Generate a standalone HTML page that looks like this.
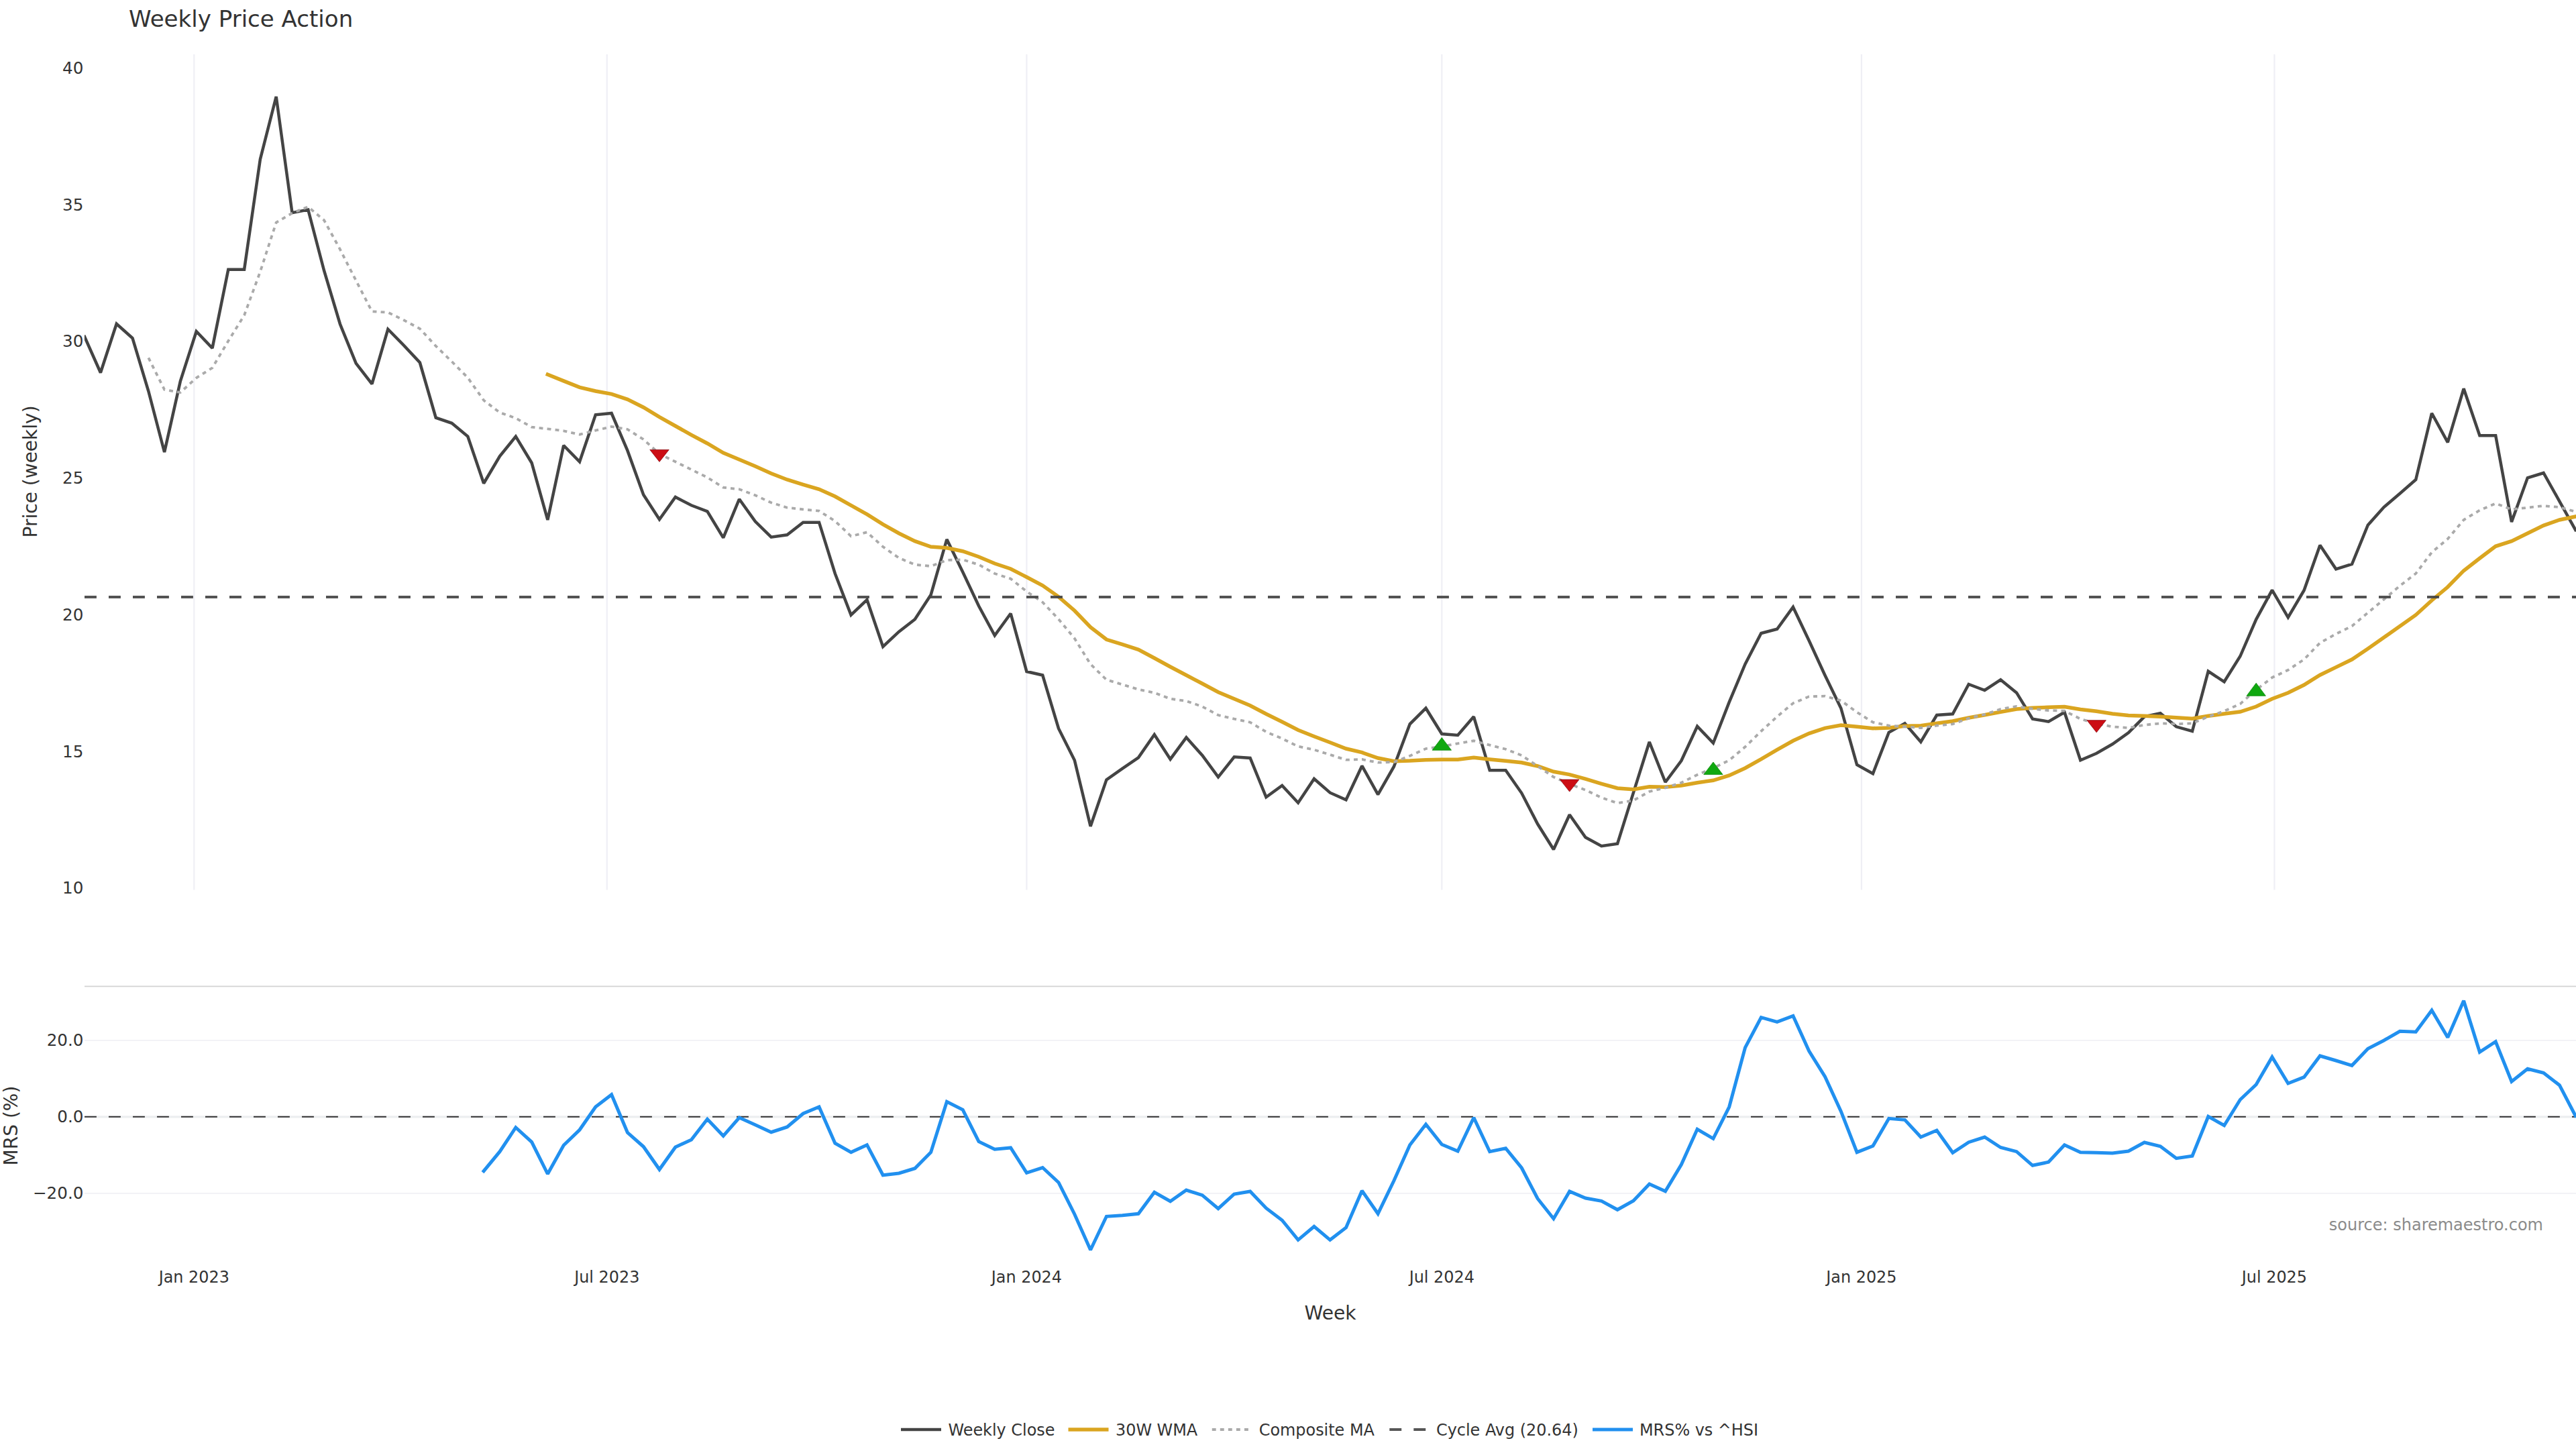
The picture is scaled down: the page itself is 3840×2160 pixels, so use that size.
<!DOCTYPE html>
<html><head><meta charset="utf-8"><title>Weekly Price Action</title>
<style>
html,body{margin:0;padding:0;background:#fff;}
body{width:3840px;height:2160px;overflow:hidden;}
svg{display:block;}
text{font-family:"DejaVu Sans","Liberation Sans",sans-serif;}
</style></head><body>
<svg width="3840" height="2160" viewBox="0 0 3840 2160">
<rect width="3840" height="2160" fill="#ffffff"/>
<defs><clipPath id="c1"><rect x="125.9" y="80.5" width="3720" height="1246"/></clipPath><clipPath id="c2"><rect x="125.9" y="1470.3" width="3720" height="416"/></clipPath></defs>

<line x1="289.3" y1="81" x2="289.3" y2="1326.5" stroke="#efeff5" stroke-width="2.2"/>
<line x1="904.8" y1="81" x2="904.8" y2="1326.5" stroke="#efeff5" stroke-width="2.2"/>
<line x1="1530.4" y1="81" x2="1530.4" y2="1326.5" stroke="#efeff5" stroke-width="2.2"/>
<line x1="2149.3" y1="81" x2="2149.3" y2="1326.5" stroke="#efeff5" stroke-width="2.2"/>
<line x1="2774.9" y1="81" x2="2774.9" y2="1326.5" stroke="#efeff5" stroke-width="2.2"/>
<line x1="3390.4" y1="81" x2="3390.4" y2="1326.5" stroke="#efeff5" stroke-width="2.2"/>
<g clip-path="url(#c1)">
<polyline points="126.1,502.0 149.9,555.5 173.7,482.7 197.5,504.0 221.3,583.0 245.1,674.0 268.9,568.0 292.7,494.0 316.5,519.0 340.3,401.7 364.1,401.7 387.9,237.4 411.7,144.0 435.5,317.2 459.3,312.5 483.1,403.5 506.9,483.0 530.7,541.7 554.5,572.3 578.3,490.7 602.1,515.0 625.9,540.5 649.7,622.7 673.5,630.8 697.3,650.5 721.1,720.5 745.0,680.0 768.8,650.7 792.6,690.0 816.4,775.0 840.2,664.0 864.0,688.3 887.8,618.3 911.6,616.0 935.4,671.7 959.2,737.5 983.0,774.3 1006.8,741.0 1030.6,753.3 1054.4,762.3 1078.2,801.7 1102.0,744.0 1125.8,777.3 1149.6,800.7 1173.4,797.3 1197.2,778.7 1221.0,778.7 1244.8,855.0 1268.6,916.7 1292.4,894.0 1316.2,964.0 1340.0,941.7 1363.8,923.3 1387.6,886.7 1411.4,804.0 1435.2,852.7 1459.0,903.3 1482.8,947.3 1506.6,914.5 1530.4,1001.0 1554.2,1006.5 1578.0,1086.0 1601.8,1133.3 1625.6,1231.7 1649.4,1162.3 1673.2,1145.7 1697.0,1129.3 1720.8,1095.0 1744.6,1131.7 1768.4,1099.3 1792.2,1126.0 1816.0,1158.3 1839.8,1128.3 1863.6,1130.0 1887.4,1188.3 1911.2,1171.0 1935.1,1196.7 1958.9,1161.0 1982.7,1181.7 2006.5,1192.3 2030.3,1141.7 2054.1,1184.3 2077.9,1142.7 2101.7,1079.3 2125.5,1055.7 2149.3,1094.0 2173.1,1096.0 2196.9,1068.3 2220.7,1148.3 2244.5,1148.3 2268.3,1182.3 2292.1,1228.3 2315.9,1266.3 2339.7,1214.5 2363.5,1248.3 2387.3,1261.2 2411.1,1257.7 2434.9,1181.7 2458.7,1106.0 2482.5,1166.0 2506.3,1134.0 2530.1,1082.7 2553.9,1107.7 2577.7,1046.7 2601.5,990.0 2625.3,944.0 2649.1,937.7 2672.9,905.0 2696.7,955.0 2720.5,1006.7 2744.3,1055.7 2768.1,1140.0 2791.9,1153.3 2815.7,1091.7 2839.5,1078.3 2863.3,1106.0 2887.1,1066.0 2910.9,1064.3 2934.7,1020.0 2958.5,1029.0 2982.3,1013.3 3006.1,1032.7 3029.9,1071.7 3053.7,1075.7 3077.5,1061.7 3101.3,1133.3 3125.2,1123.0 3149.0,1109.3 3172.8,1092.3 3196.6,1068.3 3220.4,1063.3 3244.2,1083.3 3268.0,1090.0 3291.8,1000.7 3315.6,1016.3 3339.4,978.3 3363.2,923.3 3387.0,879.7 3410.8,920.3 3434.6,880.0 3458.4,812.7 3482.2,848.3 3506.0,841.0 3529.8,782.7 3553.6,756.0 3577.4,735.7 3601.2,715.0 3625.0,616.0 3648.8,659.3 3672.6,579.3 3696.4,649.3 3720.2,649.3 3744.0,778.0 3767.8,712.3 3791.6,705.0 3815.4,747.3 3839.2,790.0" fill="none" stroke="#444444" stroke-width="4.5" stroke-linejoin="miter" stroke-miterlimit="2" stroke-linecap="square"/>
<polyline points="816.4,558.3 840.2,567.9 864.0,577.3 887.8,583.0 911.6,587.3 935.4,595.3 959.2,607.2 983.0,621.7 1006.8,635.0 1030.6,648.3 1054.4,661.0 1078.2,675.0 1102.0,685.0 1125.8,695.0 1149.6,705.7 1173.4,715.0 1197.2,722.3 1221.0,729.3 1244.8,740.0 1268.6,753.3 1292.4,766.7 1316.2,781.7 1340.0,795.0 1363.8,806.7 1387.6,815.0 1411.4,816.7 1435.2,821.7 1459.0,830.0 1482.8,840.0 1506.6,848.0 1530.4,860.3 1554.2,872.8 1578.0,889.6 1601.8,910.3 1625.6,935.0 1649.4,953.3 1673.2,960.7 1697.0,968.3 1720.8,981.0 1744.6,994.0 1768.4,1006.5 1792.2,1019.0 1816.0,1031.7 1839.8,1041.7 1863.6,1051.7 1887.4,1064.3 1911.2,1076.0 1935.1,1088.3 1958.9,1097.7 1982.7,1106.7 2006.5,1116.0 2030.3,1121.7 2054.1,1130.0 2077.9,1134.7 2101.7,1134.0 2125.5,1132.7 2149.3,1132.3 2173.1,1132.3 2196.9,1129.3 2220.7,1132.0 2244.5,1134.3 2268.3,1136.7 2292.1,1142.0 2315.9,1150.3 2339.7,1154.6 2363.5,1161.2 2387.3,1168.3 2411.1,1175.0 2434.9,1176.7 2458.7,1172.7 2482.5,1173.3 2506.3,1171.0 2530.1,1166.7 2553.9,1163.3 2577.7,1156.0 2601.5,1145.0 2625.3,1131.7 2649.1,1117.7 2672.9,1104.3 2696.7,1093.3 2720.5,1085.3 2744.3,1081.0 2768.1,1083.3 2791.9,1085.7 2815.7,1085.0 2839.5,1082.3 2863.3,1081.7 2887.1,1078.3 2910.9,1075.0 2934.7,1070.0 2958.5,1065.7 2982.3,1061.3 3006.1,1057.0 3029.9,1055.3 3053.7,1054.3 3077.5,1053.6 3101.3,1057.5 3125.2,1060.3 3149.0,1064.0 3172.8,1066.5 3196.6,1067.3 3220.4,1068.3 3244.2,1069.7 3268.0,1071.3 3291.8,1067.3 3315.6,1064.0 3339.4,1061.0 3363.2,1053.3 3387.0,1041.7 3410.8,1032.7 3434.6,1021.0 3458.4,1006.2 3482.2,994.6 3506.0,983.0 3529.8,967.0 3553.6,950.3 3577.4,933.6 3601.2,916.7 3625.0,895.0 3648.8,875.0 3672.6,850.7 3696.4,832.3 3720.2,814.3 3744.0,806.7 3767.8,795.0 3791.6,783.3 3815.4,775.0 3839.2,770.0" fill="none" stroke="#daa520" stroke-width="5.5" stroke-linejoin="miter" stroke-miterlimit="2" stroke-linecap="square"/>
<polyline points="221.3,533.3 245.1,580.8 268.9,585.0 292.7,563.3 316.5,548.3 340.3,508.3 364.1,470.0 387.9,405.0 411.7,331.7 435.5,317.7 459.3,308.3 483.1,328.3 506.9,371.7 530.7,418.3 554.5,464.3 578.3,465.7 602.1,477.3 625.9,490.0 649.7,515.8 673.5,539.0 697.3,563.0 721.1,596.7 745.0,615.0 768.8,623.3 792.6,636.7 816.4,639.3 840.2,642.3 864.0,647.7 887.8,641.7 911.6,636.0 935.4,640.0 959.2,655.0 983.0,676.7 1006.8,688.3 1030.6,700.0 1054.4,711.7 1078.2,726.7 1102.0,729.3 1125.8,738.3 1149.6,749.3 1173.4,756.7 1197.2,759.3 1221.0,761.7 1244.8,776.7 1268.6,799.3 1292.4,793.3 1316.2,815.0 1340.0,831.7 1363.8,841.7 1387.6,844.0 1411.4,835.0 1435.2,834.3 1459.0,841.7 1482.8,855.0 1506.6,862.7 1530.4,881.7 1554.2,897.8 1578.0,923.0 1601.8,951.7 1625.6,990.0 1649.4,1013.3 1673.2,1020.5 1697.0,1027.7 1720.8,1032.7 1744.6,1041.7 1768.4,1045.0 1792.2,1053.3 1816.0,1066.0 1839.8,1071.7 1863.6,1076.7 1887.4,1091.0 1911.2,1101.0 1935.1,1112.7 1958.9,1117.7 1982.7,1125.0 2006.5,1132.7 2030.3,1132.0 2054.1,1136.7 2077.9,1136.0 2101.7,1126.7 2125.5,1116.0 2149.3,1112.7 2173.1,1108.3 2196.9,1104.3 2220.7,1110.7 2244.5,1116.7 2268.3,1126.0 2292.1,1142.0 2315.9,1158.3 2339.7,1168.6 2363.5,1177.7 2387.3,1189.0 2411.1,1197.2 2434.9,1193.3 2458.7,1180.0 2482.5,1174.3 2506.3,1166.7 2530.1,1155.0 2553.9,1145.0 2577.7,1133.3 2601.5,1113.3 2625.3,1090.0 2649.1,1068.3 2672.9,1048.3 2696.7,1038.3 2720.5,1037.7 2744.3,1044.3 2768.1,1061.7 2791.9,1076.7 2815.7,1081.7 2839.5,1083.3 2863.3,1085.0 2887.1,1081.7 2910.9,1079.3 2934.7,1070.7 2958.5,1065.0 2982.3,1057.0 3006.1,1053.0 3029.9,1056.7 3053.7,1059.0 3077.5,1059.7 3101.3,1071.7 3125.2,1078.8 3149.0,1083.3 3172.8,1085.0 3196.6,1080.7 3220.4,1078.3 3244.2,1079.3 3268.0,1078.3 3291.8,1068.3 3315.6,1060.0 3339.4,1049.3 3363.2,1028.3 3387.0,1010.0 3410.8,998.8 3434.6,983.0 3458.4,958.3 3482.2,945.0 3506.0,933.3 3529.8,913.3 3553.6,893.6 3577.4,873.3 3601.2,855.0 3625.0,823.3 3648.8,803.3 3672.6,775.0 3696.4,760.7 3720.2,750.5 3744.0,759.3 3767.8,756.7 3791.6,754.0 3815.4,756.0 3839.2,762.7" fill="none" stroke="#aaaaaa" stroke-width="3.8" stroke-dasharray="5.9 6.15" stroke-linejoin="miter"/>
<line x1="126" y1="890" x2="3840" y2="890" stroke="#444444" stroke-opacity="0.92" stroke-width="3.9" stroke-dasharray="17.9 18.1"/>
</g>
<polygon points="968.8,670.4 997.2,670.4 983.0,688.4" fill="#cc0d14" stroke="#8e0a10" stroke-width="0.8" stroke-linejoin="miter"/>
<polygon points="2325.5,1162.1 2353.9,1162.1 2339.7,1180.1" fill="#cc0d14" stroke="#8e0a10" stroke-width="0.8" stroke-linejoin="miter"/>
<polygon points="3111.0,1073.7 3139.4,1073.7 3125.2,1091.8" fill="#cc0d14" stroke="#8e0a10" stroke-width="0.8" stroke-linejoin="miter"/>
<polygon points="2135.1,1118.3 2163.5,1118.3 2149.3,1099.5" fill="#10a810" stroke="#0e8c0e" stroke-width="0.8" stroke-linejoin="miter"/>
<polygon points="2539.7,1154.6 2568.1,1154.6 2553.9,1136.0" fill="#10a810" stroke="#0e8c0e" stroke-width="0.8" stroke-linejoin="miter"/>
<polygon points="3349.0,1037.3 3377.4,1037.3 3363.2,1018.2" fill="#10a810" stroke="#0e8c0e" stroke-width="0.8" stroke-linejoin="miter"/>
<line x1="126" y1="1470.45" x2="3840" y2="1470.45" stroke="#d3d3d3" stroke-width="1.8"/>
<line x1="126" y1="1550.9" x2="3840" y2="1550.9" stroke="#ebebf2" stroke-width="1.4"/>
<line x1="126" y1="1778.9" x2="3840" y2="1778.9" stroke="#ebebf2" stroke-width="1.4"/>
<line x1="126" y1="1664.9" x2="3840" y2="1664.9" stroke="#eceef0" stroke-width="3.4"/>
<line x1="126" y1="1664.8" x2="3840" y2="1664.8" stroke="#333333" stroke-width="2.1" stroke-dasharray="17.9 18.1"/>
<polyline clip-path="url(#c2)" points="721.1,1745.7 745.0,1716.7 768.8,1680.7 792.6,1702.3 816.4,1750.0 840.2,1707.3 864.0,1684.3 887.8,1650.0 911.6,1631.7 935.4,1688.3 959.2,1709.3 983.0,1743.3 1006.8,1710.0 1030.6,1699.0 1054.4,1668.3 1078.2,1693.3 1102.0,1666.0 1125.8,1676.7 1149.6,1687.7 1173.4,1680.0 1197.2,1660.0 1221.0,1650.0 1244.8,1704.3 1268.6,1717.7 1292.4,1706.7 1316.2,1751.7 1340.0,1749.0 1363.8,1741.7 1387.6,1717.7 1411.4,1642.3 1435.2,1654.3 1459.0,1701.7 1482.8,1713.3 1506.6,1711.0 1530.4,1748.3 1554.2,1740.5 1578.0,1762.7 1601.8,1810.0 1625.6,1863.3 1649.4,1813.3 1673.2,1811.7 1697.0,1809.3 1720.8,1777.3 1744.6,1790.7 1768.4,1774.0 1792.2,1781.7 1816.0,1801.7 1839.8,1780.0 1863.6,1776.0 1887.4,1801.0 1911.2,1819.0 1935.1,1848.3 1958.9,1828.3 1982.7,1848.3 2006.5,1830.0 2030.3,1775.0 2054.1,1809.3 2077.9,1760.0 2101.7,1706.7 2125.5,1676.0 2149.3,1706.0 2173.1,1716.0 2196.9,1666.0 2220.7,1716.7 2244.5,1711.7 2268.3,1741.0 2292.1,1786.7 2315.9,1816.7 2339.7,1776.0 2363.5,1786.0 2387.3,1790.3 2411.1,1803.3 2434.9,1790.0 2458.7,1765.0 2482.5,1775.7 2506.3,1736.0 2530.1,1683.3 2553.9,1697.3 2577.7,1650.0 2601.5,1561.7 2625.3,1516.7 2649.1,1523.3 2672.9,1514.3 2696.7,1566.7 2720.5,1605.0 2744.3,1656.7 2768.1,1717.7 2791.9,1708.3 2815.7,1667.3 2839.5,1669.3 2863.3,1695.0 2887.1,1685.0 2910.9,1718.3 2934.7,1702.7 2958.5,1695.0 2982.3,1710.5 3006.1,1716.7 3029.9,1737.3 3053.7,1732.3 3077.5,1706.7 3101.3,1717.7 3125.2,1718.3 3149.0,1719.0 3172.8,1716.0 3196.6,1703.0 3220.4,1708.7 3244.2,1726.7 3268.0,1723.3 3291.8,1664.3 3315.6,1677.7 3339.4,1639.3 3363.2,1616.7 3387.0,1575.7 3410.8,1615.0 3434.6,1605.7 3458.4,1574.0 3482.2,1581.0 3506.0,1588.3 3529.8,1563.3 3553.6,1551.0 3577.4,1537.3 3601.2,1538.3 3625.0,1506.0 3648.8,1546.5 3672.6,1491.8 3696.4,1568.3 3720.2,1552.7 3744.0,1612.3 3767.8,1593.3 3791.6,1599.3 3815.4,1617.7 3839.2,1663.3" fill="none" stroke="#2190ef" stroke-width="5" stroke-linejoin="miter" stroke-miterlimit="2" stroke-linecap="square"/>
<text x="192" y="39.8" font-size="34.05" fill="#333333">Weekly Price Action</text>
<text x="124.4" y="109.9" font-size="24.6" text-anchor="end" fill="#333333">40</text>
<text x="124.4" y="313.6" font-size="24.6" text-anchor="end" fill="#333333">35</text>
<text x="124.4" y="517.3" font-size="24.6" text-anchor="end" fill="#333333">30</text>
<text x="124.4" y="721.0" font-size="24.6" text-anchor="end" fill="#333333">25</text>
<text x="124.4" y="924.8" font-size="24.6" text-anchor="end" fill="#333333">20</text>
<text x="124.4" y="1128.5" font-size="24.6" text-anchor="end" fill="#333333">15</text>
<text x="124.4" y="1332.2" font-size="24.6" text-anchor="end" fill="#333333">10</text>
<text x="124.4" y="1559.1" font-size="24.6" text-anchor="end" fill="#333333">20.0</text>
<text x="124.4" y="1673.1" font-size="24.6" text-anchor="end" fill="#333333">0.0</text>
<text x="124.4" y="1787.1" font-size="24.6" text-anchor="end" fill="#333333">−20.0</text>
<text x="289.3" y="1911.7" font-size="23.9" text-anchor="middle" fill="#333333">Jan 2023</text>
<text x="904.8" y="1911.7" font-size="23.9" text-anchor="middle" fill="#333333">Jul 2023</text>
<text x="1530.4" y="1911.7" font-size="23.9" text-anchor="middle" fill="#333333">Jan 2024</text>
<text x="2149.3" y="1911.7" font-size="23.9" text-anchor="middle" fill="#333333">Jul 2024</text>
<text x="2774.9" y="1911.7" font-size="23.9" text-anchor="middle" fill="#333333">Jan 2025</text>
<text x="3390.4" y="1911.7" font-size="23.9" text-anchor="middle" fill="#333333">Jul 2025</text>
<text x="1983" y="1966.8" font-size="28.1" text-anchor="middle" fill="#333333">Week</text>
<text transform="translate(54.7,702.9) rotate(-90)" font-size="28" text-anchor="middle" fill="#333333">Price (weekly)</text>
<text transform="translate(26.3,1678) rotate(-90)" font-size="28" text-anchor="middle" fill="#333333">MRS (%)</text>
<text x="3791" y="1833.6" font-size="24" text-anchor="end" fill="#8b8b8b">source: sharemaestro.com</text>
<line x1="1343" y1="2131.0" x2="1403" y2="2131.0" stroke="#444444" stroke-width="4.5"/>
<text x="1413.5" y="2140.2" font-size="23.9" fill="#333333">Weekly Close</text>
<line x1="1592.5" y1="2131.0" x2="1652.5" y2="2131.0" stroke="#daa520" stroke-width="5.6"/>
<text x="1663" y="2140.2" font-size="23.9" fill="#333333">30W WMA</text>
<line x1="1806.75" y1="2131.0" x2="1866" y2="2131.0" stroke="#aaaaaa" stroke-width="3.8" stroke-dasharray="5.9 6.15"/>
<text x="1876.8" y="2140.2" font-size="23.9" fill="#333333">Composite MA</text>
<line x1="2071.3" y1="2131.0" x2="2131.3" y2="2131.0" stroke="#444444" stroke-opacity="0.9" stroke-width="3.9" stroke-dasharray="17.9 18.1"/>
<text x="2141" y="2140.2" font-size="23.9" fill="#333333">Cycle Avg (20.64)</text>
<line x1="2374" y1="2131.0" x2="2434" y2="2131.0" stroke="#2190ef" stroke-width="5"/>
<text x="2444" y="2140.2" font-size="23.9" fill="#333333">MRS% vs ^HSI</text>
</svg></body></html>
